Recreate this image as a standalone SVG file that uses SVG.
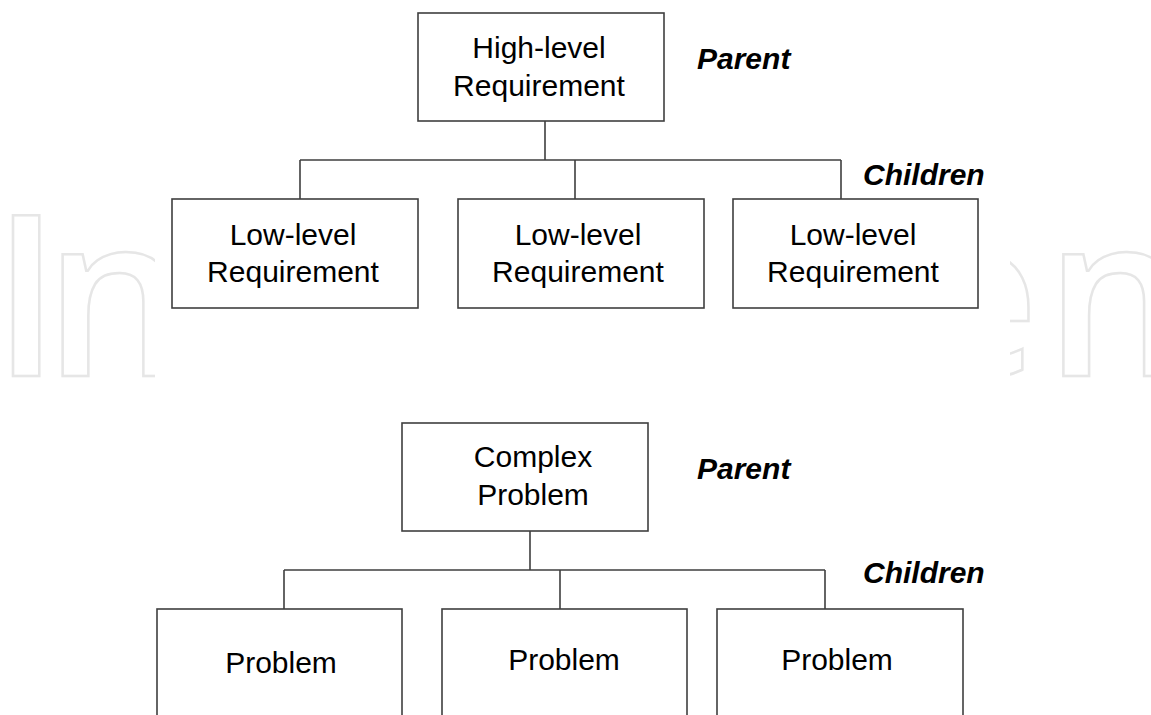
<svg xmlns="http://www.w3.org/2000/svg" width="1151" height="715" viewBox="0 0 1151 715">
  <style>
    .box { fill: #ffffff; stroke: #3f3f3f; stroke-width: 1.6; }
    .wire { fill: none; stroke: #3f3f3f; stroke-width: 1.6; }
    .lbl { font-family: "Liberation Sans", Arial, sans-serif; font-size: 30px; fill: #000000; text-anchor: middle; }
    .tag { font-family: "Liberation Sans", Arial, sans-serif; font-size: 30px; font-weight: bold; font-style: italic; fill: #000000; }
    .wm { font-family: "Open Sans", "Liberation Sans", sans-serif; font-size: 224px; font-weight: 600; fill: none; stroke: #e6e6e6; stroke-width: 2.5; }
  </style>
  <defs>
    <clipPath id="clipL"><rect x="0" y="190" width="155" height="200"/></clipPath>
    <clipPath id="clipR"><rect x="1010" y="190" width="141" height="200"/></clipPath>
  </defs>
  <rect x="0" y="0" width="1151" height="715" fill="#ffffff"/>

  <g id="watermark">
    <text class="wm" x="-8" y="376" clip-path="url(#clipL)">I<tspan dx="-16">n</tspan></text>
    <text class="wm" x="910" y="376" clip-path="url(#clipR)">e<tspan dx="6">n</tspan></text>
  </g>

  <g id="connectors">
    <path class="wire" d="M545 121 V160 M300 160 H841 M300 160 V199 M575 160 V199 M841 160 V199"/>
    <path class="wire" d="M530 531 V570 M284 570 H825 M284 570 V609 M560 570 V609 M825 570 V609"/>
  </g>

  <g id="high-level">
    <rect class="box" x="418" y="13" width="246" height="108"/>
    <text class="lbl" x="539" y="58">High-level</text>
    <text class="lbl" x="539" y="96">Requirement</text>
  </g>
  <g id="low-level-1">
    <rect class="box" x="172" y="199" width="246" height="109"/>
    <text class="lbl" x="293" y="245">Low-level</text>
    <text class="lbl" x="293" y="282">Requirement</text>
  </g>
  <g id="low-level-2">
    <rect class="box" x="458" y="199" width="246" height="109"/>
    <text class="lbl" x="578" y="245">Low-level</text>
    <text class="lbl" x="578" y="282">Requirement</text>
  </g>
  <g id="low-level-3">
    <rect class="box" x="733" y="199" width="245" height="109"/>
    <text class="lbl" x="853" y="245">Low-level</text>
    <text class="lbl" x="853" y="282">Requirement</text>
  </g>
  <g id="label-parent-1"><text class="tag" x="697" y="69">Parent</text></g>
  <g id="label-children-1"><text class="tag" x="863" y="185">Children</text></g>

  <g id="complex-problem">
    <rect class="box" x="402" y="423" width="246" height="108"/>
    <text class="lbl" x="533" y="467">Complex</text>
    <text class="lbl" x="533" y="505">Problem</text>
  </g>
  <g id="problem-1">
    <rect class="box" x="157" y="609" width="245" height="130"/>
    <text class="lbl" x="281" y="673">Problem</text>
  </g>
  <g id="problem-2">
    <rect class="box" x="442" y="609" width="245" height="130"/>
    <text class="lbl" x="564" y="670">Problem</text>
  </g>
  <g id="problem-3">
    <rect class="box" x="717" y="609" width="246" height="130"/>
    <text class="lbl" x="837" y="670">Problem</text>
  </g>
  <g id="label-parent-2"><text class="tag" x="697" y="479">Parent</text></g>
  <g id="label-children-2"><text class="tag" x="863" y="583">Children</text></g>
</svg>
